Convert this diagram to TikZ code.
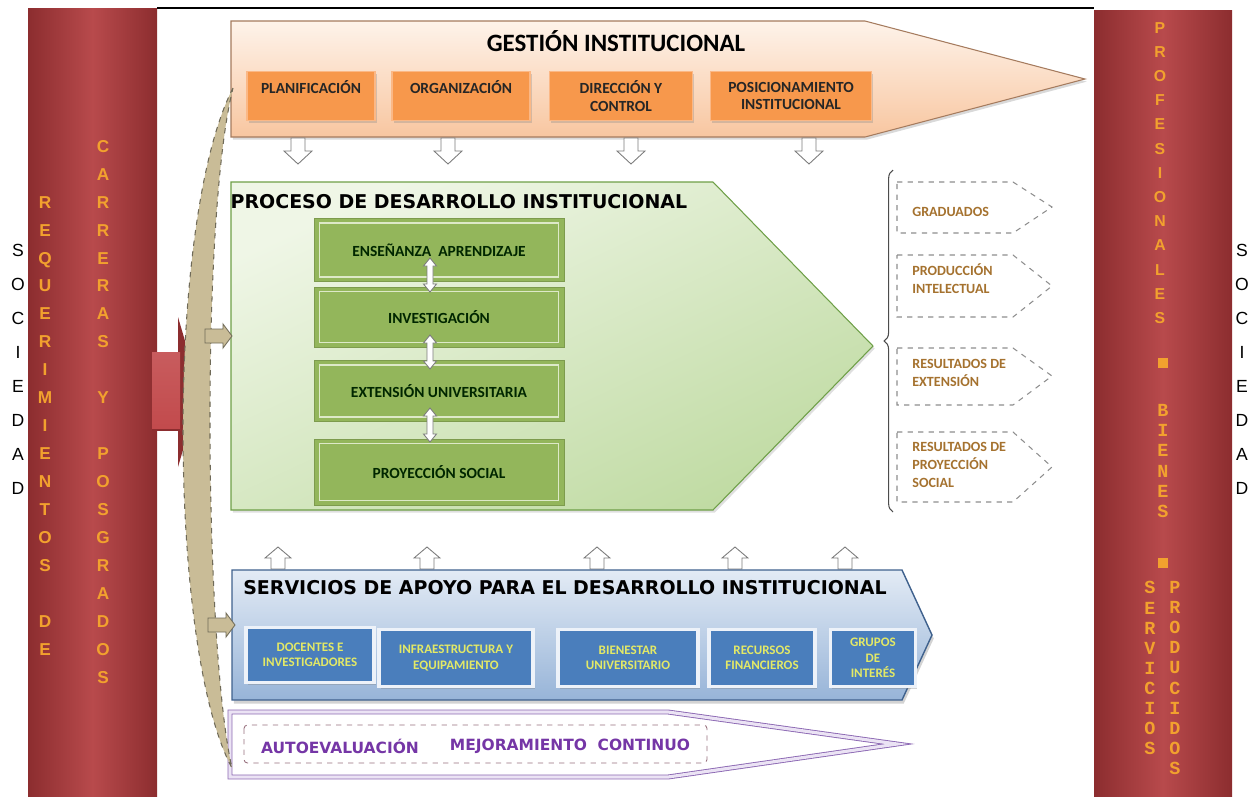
\documentclass[tikz,border=0pt]{standalone}
\usepackage{fontspec}
\setmainfont{Carlito}
\newfontfamily\arialfont{Liberation Sans}
\newfontfamily\heavyfont{DejaVu Sans}
\newfontfamily\courierfont{Liberation Mono}
\usetikzlibrary{positioning, calc, shadows, decorations.pathreplacing}

\definecolor{bardark}{HTML}{8C2D2F}
\definecolor{barlight}{HTML}{B84A4C}
\definecolor{arrowred}{HTML}{C24A4C}
\definecolor{letterorange}{HTML}{F2A12E}
\definecolor{tanband}{HTML}{C9BC97}
\definecolor{tanline}{HTML}{6F6A58}
\definecolor{peachtop}{HTML}{FEF3EA}
\definecolor{peachbot}{HTML}{F8C6A0}
\definecolor{peachline}{HTML}{A57B5E}
\definecolor{boxorange}{HTML}{F7984C}
\definecolor{boxorangerim}{HTML}{FBB886}
\definecolor{greenlight}{HTML}{EFF6E6}
\definecolor{greendark}{HTML}{C0DBA3}
\definecolor{greenline}{HTML}{6E9F47}
\definecolor{boxgreen}{HTML}{93B65B}
\definecolor{boxgreenrim}{HTML}{DDE9C8}
\definecolor{bluetop}{HTML}{E3EBF5}
\definecolor{bluebot}{HTML}{97B4D8}
\definecolor{blueline}{HTML}{3F618D}
\definecolor{boxblue}{HTML}{4A7EBC}
\definecolor{boxbluerim}{HTML}{EDF2F9}
\definecolor{bluetext}{HTML}{E3E966}
\definecolor{purpleline}{HTML}{8A66B2}
\definecolor{purplefill}{HTML}{EBE3F4}
\definecolor{purpletext}{HTML}{7536A6}
\definecolor{outtext}{HTML}{A5722F}
\definecolor{dashgray}{HTML}{8E8E8E}
\definecolor{arrowgray}{HTML}{7C7C7C}

\begin{document}
\begin{tikzpicture}[
    x=0.02cm, y=-0.02cm,
    font=\bfseries,
    red bar/.style={left color=bardark, right color=bardark, middle color=barlight},
    soc letters/.style={align=center, inner sep=0pt, font=\arialfont\fontsize{10}{19.35}\selectfont},
    col letters/.style={align=center, inner sep=0pt, text=letterorange,
        font=\arialfont\bfseries\fontsize{9.8}{15.93}\selectfont},
    prof letters/.style={align=center, inner sep=0pt, text=letterorange,
        font=\arialfont\bfseries\fontsize{9}{13.77}\selectfont},
    mono letters/.style={align=center, inner sep=0pt, text=letterorange,
        font=\courierfont\bfseries\fontsize{10.5}{11.4}\selectfont},
    square bullet/.style={rectangle, fill=letterorange, minimum size=0.2cm, inner sep=0pt},
    gestion shape/.style={top color=peachtop, bottom color=peachbot, draw=peachline,
        line width=0.6pt, drop shadow={opacity=0.3, shadow xshift=1pt, shadow yshift=-1.5pt}},
    process shape/.style={top color=greenlight, bottom color=greendark, shading angle=25,
        draw=greenline, line width=0.6pt, drop shadow={opacity=0.25, shadow xshift=1pt, shadow yshift=-1.5pt}},
    support shape/.style={top color=bluetop, bottom color=bluebot, draw=blueline,
        line width=0.8pt, drop shadow={opacity=0.35, shadow xshift=1pt, shadow yshift=-2pt}},
    heavy title/.style={inner sep=0pt, font=\heavyfont\bfseries\fontsize{10.8}{12}\selectfont},
    gbox/.style={rectangle, fill=boxorange, draw=boxorangerim, line width=1pt, inner sep=0pt,
        align=center, text=black!85, font=\bfseries\fontsize{8.8}{9.9}\selectfont,
        drop shadow={opacity=0.3, shadow xshift=1pt, shadow yshift=-1.5pt}},
    pbox/.style={rectangle, fill=boxgreen, draw=boxgreen!85!black, line width=0.5pt, inner sep=0pt,
        minimum width=5cm, align=center, text=black!85!green,
        font=\bfseries\fontsize{8.8}{10}\selectfont},
    pbox rim/.style={draw=boxgreenrim, line width=1pt},
    sbox/.style={rectangle, fill=boxblue, draw=boxbluerim, line width=2pt, inner sep=0pt,
        align=center, text=bluetext, font=\bfseries\fontsize{7.4}{8.8}\selectfont,
        drop shadow={opacity=0.35, shadow xshift=1pt, shadow yshift=-1.5pt}},
    out shape/.style={draw=dashgray, dashed, line width=0.6pt, fill=white},
    out text/.style={anchor=west, inner sep=0pt, align=left, text=outtext,
        font=\bfseries\fontsize{8}{10.2}\selectfont},
    eval text/.style={inner sep=0pt, text=purpletext, font=\heavyfont\bfseries\fontsize{8.8}{10}\selectfont},
    down block/.pic={\draw[arrowgray, fill=white, line width=0.5pt]
        (-7,-13) -- (7,-13) -- (7,0) -- (14,0) -- (0,13) -- (-14,0) -- (-7,0) -- cycle;},
    up block/.pic={\draw[arrowgray, fill=white, line width=0.5pt]
        (-7,11) -- (7,11) -- (7,0) -- (13,0) -- (0,-11) -- (-13,0) -- (-7,0) -- cycle;},
    both block/.pic={\draw[arrowgray, fill=white, line width=0.5pt]
        (0,-17) -- (6.5,-9) -- (3,-9) -- (3,9) -- (6.5,9) -- (0,17) -- (-6.5,9) -- (-3,9)
        -- (-3,-9) -- (-6.5,-9) -- cycle;},
    tan block/.pic={\draw[tanline, fill=tanband, line width=0.5pt]
        (-13,-7) -- (5,-7) -- (5,-12) -- (14,0) -- (5,12) -- (5,7) -- (-13,7) -- cycle;}
]

    \useasboundingbox (0,0) rectangle (1259,796);

    % --- Side bars ---
    \shade[red bar] (28,8) rectangle (157,796);
    \shade[red bar] (1094,10) rectangle (1232,796);
    \draw[black, line width=0.8pt] (157,8) -- (1094,8);

    \node[soc letters] (socleft) at (18,369) {S\\O\\C\\I\\E\\D\\A\\D};
    \node[soc letters] (socright) at (1242,369) {S\\O\\C\\I\\E\\D\\A\\D};
    \node[col letters] (requer) at (45,426)
        {R\\E\\Q\\U\\E\\R\\I\\M\\I\\E\\N\\T\\O\\S\\\mbox{}\\D\\E};
    \node[col letters] (carreras) at (103,412)
        {C\\A\\R\\R\\E\\R\\A\\S\\\mbox{}\\Y\\\mbox{}\\P\\O\\S\\G\\R\\A\\D\\O\\S};
    \node[prof letters] (profes) at (1160,173) {P\\R\\O\\F\\E\\S\\I\\O\\N\\A\\L\\E\\S};
    \node[square bullet] (bulone) at (1163,363) {};
    \node[mono letters] (bienes) at (1163,461) {B\\I\\E\\N\\E\\S};
    \node[square bullet] (bultwo) at (1163,563) {};
    \node[mono letters] (servicios) at (1150,668) {S\\E\\R\\V\\I\\C\\I\\O\\S};
    \node[mono letters] (producidos) at (1175,678) {P\\R\\O\\D\\U\\C\\I\\D\\O\\S};

    % --- Entry arrow ---
    \fill[bardark] (178,317) -- (200,392) -- (178,467) -- cycle;
    \shade[top color=arrowred!90!white, bottom color=arrowred] (152,352) rectangle (180,430);
    \draw[bardark, line width=0.6pt] (152,430) -- (180,430);

    % --- Gestion institucional ---
    \draw[gestion shape] (231,21) -- (865,21) -- (1085,79) -- (865,137) -- (231,137) -- cycle;
    \node[inner sep=0pt, font=\bfseries\fontsize{14.2}{16}\selectfont] (gtitle) at (616,41) {GESTIÓN INSTITUCIONAL};

    \node[gbox, minimum width=2.56cm, minimum height=0.98cm] (plan) at (311,96) {PLANIFICACIÓN\\\mbox{}};
    \node[gbox, minimum width=2.76cm, minimum height=0.98cm] (orga) at (461,96) {ORGANIZACIÓN\\\mbox{}};
    \node[gbox, minimum width=2.86cm, minimum height=0.98cm] (direc) at (621,96) {DIRECCIÓN Y\\CONTROL};
    \node[gbox, minimum width=3.22cm, minimum height=0.98cm] (posic) at (791,96) {POSICIONAMIENTO\\INSTITUCIONAL};

    \foreach \xx in {298,448,631,809}
        \pic at (\xx,151) {down block};

    % --- Proceso de desarrollo ---
    \draw[process shape] (231,182) -- (713,182) -- (873,346) -- (713,510) -- (231,510) -- cycle;
    \node[heavy title] (ptitle) at (459,202) {PROCESO DE DESARROLLO INSTITUCIONAL};

    \node[pbox, minimum height=1.26cm] (ensen) at (439,250) {ENSEÑANZA~~APRENDIZAJE};
    \node[pbox, minimum height=1.2cm] (inves) at (439,317) {INVESTIGACIÓN};
    \node[pbox, minimum height=1.22cm] (exten) at (439,391) {EXTENSIÓN UNIVERSITARIA};
    \node[pbox, minimum height=1.32cm] (proye) at (439,472) {PROYECCIÓN SOCIAL};
    \foreach \bx in {ensen,inves,exten,proye}
        \draw[pbox rim] ([shift={(6,5)}]\bx.north west) rectangle ([shift={(-6,-5)}]\bx.south east);

    \pic at (430,275) {both block};
    \pic at (430,352) {both block};
    \pic at (430,425) {both block};

    % --- Resultados ---
    \draw[black!70, line width=0.6pt, decorate, decoration={brace, amplitude=5pt}] (893,512) -- (893,170);

    \draw[out shape] (897,182) -- (1013,182) -- (1052,207) -- (1013,233) -- (897,233) -- cycle;
    \draw[out shape] (897,255) -- (1013,255) -- (1052,286) -- (1013,317) -- (897,317) -- cycle;
    \draw[out shape] (897,348) -- (1013,348) -- (1052,376) -- (1013,405) -- (897,405) -- cycle;
    \draw[out shape] (897,432) -- (1013,432) -- (1052,467) -- (1013,502) -- (897,502) -- cycle;
    \node[out text] (gradu) at (912,212) {GRADUADOS};
    \node[out text] (produ) at (912,279) {PRODUCCIÓN\\INTELECTUAL};
    \node[out text] (resex) at (912,373) {RESULTADOS DE\\EXTENSIÓN};
    \node[out text] (respr) at (912,465) {RESULTADOS DE\\PROYECCIÓN\\SOCIAL};

    % --- Servicios de apoyo ---
    \foreach \xx in {278,427,597,735,845}
        \pic at (\xx,558) {up block};

    \draw[support shape] (232,570) -- (902,570) -- (932,635) -- (902,700) -- (232,700) -- cycle;
    \node[heavy title] (stitle) at (565,588) {SERVICIOS DE APOYO PARA EL DESARROLLO INSTITUCIONAL};

    \node[sbox, minimum width=2.56cm, minimum height=1.1cm] (docen) at (310,655) {DOCENTES E\\INVESTIGADORES};
    \node[sbox, minimum width=3.08cm, minimum height=1.14cm] (infra) at (456,658) {INFRAESTRUCTURA Y\\EQUIPAMIENTO};
    \node[sbox, minimum width=2.8cm, minimum height=1.14cm] (biene) at (628,658) {BIENESTAR\\UNIVERSITARIO};
    \node[sbox, minimum width=2.12cm, minimum height=1.14cm] (recur) at (762,658) {RECURSOS\\FINANCIEROS};
    \node[sbox, minimum width=1.7cm, minimum height=1.14cm] (grupo) at (873,658) {GRUPOS\\DE\\INTERÉS};

    % --- Autoevaluacion ---
    \draw[purpleline, double=purplefill, double distance=1.8pt, line width=0.5pt, fill=white]
        (230,712) -- (668,712) -- (897,744) -- (668,777) -- (230,777) -- cycle;
    \draw[dashgray!80!purple, dashed, line width=0.5pt, rounded corners=2pt] (244,725) rectangle (707,763);
    \node[eval text] (autoev) at (340,746) {AUTOEVALUACIÓN};
    \node[eval text] (mejora) at (570,746) {MEJORAMIENTO~~CONTINUO};

    % --- Retroalimentacion ---
    \draw[tanline, dashed, line width=0.6pt, fill=tanband]
        (233,88) .. controls (165,220) and (168,650) .. (232,768)
        .. controls (205,650) and (200,220) .. (233,88);
    \pic at (218,336) {tan block};
    \pic at (221,625) {tan block};

\end{tikzpicture}
\end{document}
